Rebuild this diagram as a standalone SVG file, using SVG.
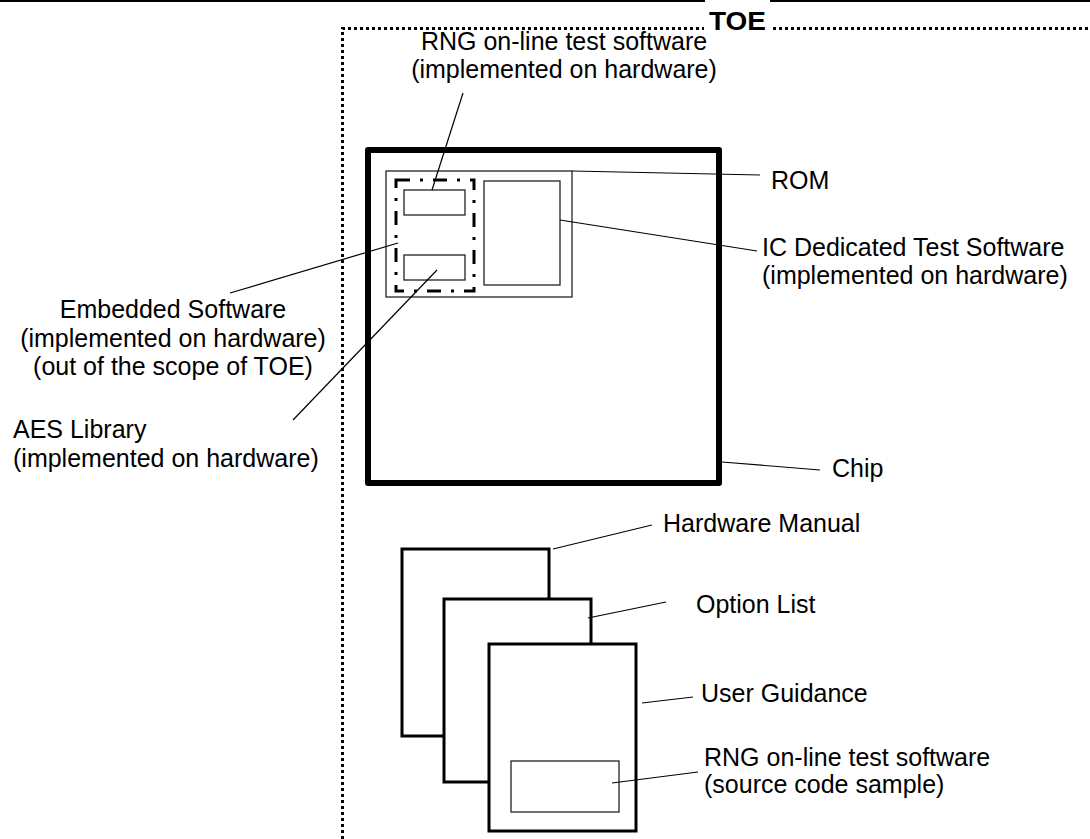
<svg xmlns="http://www.w3.org/2000/svg" width="1090" height="839" viewBox="0 0 1090 839">
<style>
.t{font-family:"Liberation Sans",Arial,sans-serif;font-size:25px;fill:#000}
.tb{font-family:"Liberation Sans",Arial,sans-serif;font-size:25px;font-weight:bold;fill:#000}
.ld{stroke:#000;stroke-width:1.2;fill:none}
.doc{fill:#fff;stroke:#000;stroke-width:3}
.thin{fill:#fff;stroke:#222;stroke-width:1.3}
.toe{stroke:#000;stroke-width:3;stroke-dasharray:3 3;fill:none}
</style>
<rect width="1090" height="839" fill="#fff"/>
<g id="header">
<line x1="0" y1="1" x2="705" y2="1" stroke="#000" stroke-width="2"/>
<line x1="770" y1="1" x2="1090" y2="1" stroke="#000" stroke-width="2"/>
</g>
<g id="toe">
<path class="toe" d="M342.5,839 V28.5 H704"/>
<path class="toe" d="M773,28.5 H1090"/>
<text class="tb" x="709" y="30" textLength="57" lengthAdjust="spacingAndGlyphs">TOE</text>
</g>
<g id="chip">
<rect x="368" y="150" width="351" height="333" fill="#fff" stroke="#000" stroke-width="6" stroke-linejoin="round"/>
</g>
<g id="rom">
<rect class="thin" x="386" y="171" width="186" height="126"/>
</g>
<g id="embedded">
<rect x="396" y="180" width="78" height="111" fill="none" stroke="#000" stroke-width="3" stroke-dasharray="14 10 3 10"/>
</g>
<g id="rng-hw">
<rect class="thin" x="404" y="190" width="61" height="25"/>
</g>
<g id="aes">
<rect class="thin" x="404" y="255" width="61" height="25"/>
</g>
<g id="ic-test">
<rect class="thin" x="484" y="181" width="76" height="104"/>
</g>
<g id="hw-manual">
<rect class="doc" x="402" y="549" width="147" height="187"/>
</g>
<g id="option-list">
<rect class="doc" x="444" y="599" width="147" height="183"/>
</g>
<g id="user-guidance">
<rect class="doc" x="489" y="644" width="147" height="187"/>
</g>
<g id="rng-sample">
<rect class="thin" x="511" y="761" width="108" height="51"/>
</g>
<g id="connectors">
<line class="ld" x1="463" y1="93" x2="432" y2="190"/>
<line class="ld" x1="572" y1="171" x2="760" y2="175"/>
<line class="ld" x1="560" y1="220" x2="757" y2="251"/>
<line class="ld" x1="398" y1="243" x2="230" y2="293"/>
<line class="ld" x1="437" y1="270" x2="293" y2="420"/>
<line class="ld" x1="722" y1="462" x2="820" y2="470"/>
<line class="ld" x1="553" y1="549" x2="652" y2="525"/>
<line class="ld" x1="588" y1="618" x2="666" y2="602"/>
<line class="ld" x1="642" y1="703" x2="693" y2="697"/>
<line class="ld" x1="612" y1="783" x2="698" y2="772"/>
</g>
<g id="labels">
<text class="t" x="564" y="50" text-anchor="middle">RNG on-line test software<tspan x="564" dy="28">(implemented on hardware)</tspan></text>
<text class="t" x="771" y="189">ROM</text>
<text class="t" x="762" y="256">IC Dedicated Test Software<tspan x="762" dy="28">(implemented on hardware)</tspan></text>
<text class="t" x="173" y="318" text-anchor="middle">Embedded Software<tspan x="173" dy="28.5">(implemented on hardware)</tspan><tspan x="173" dy="28.5">(out of the scope of TOE)</tspan></text>
<text class="t" x="13" y="438">AES Library<tspan x="13" dy="29">(implemented on hardware)</tspan></text>
<text class="t" x="832" y="477">Chip</text>
<text class="t" x="663" y="532">Hardware Manual</text>
<text class="t" x="696" y="613">Option List</text>
<text class="t" x="701" y="702">User Guidance</text>
<text class="t" x="704" y="766">RNG on-line test software<tspan x="704" dy="27">(source code sample)</tspan></text>
</g>
</svg>
